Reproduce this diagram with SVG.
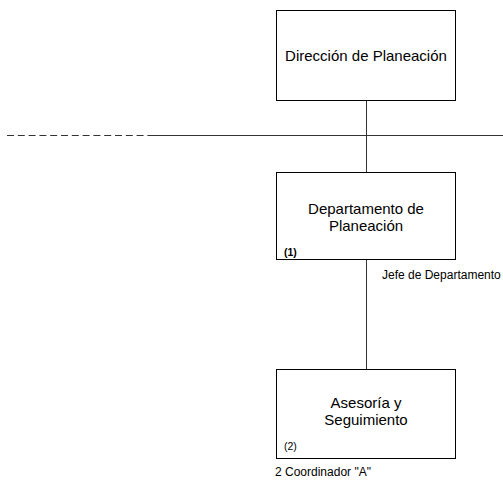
<svg xmlns="http://www.w3.org/2000/svg" width="503" height="481" viewBox="0 0 503 481">
  <style>
    .box { fill: #ffffff; stroke: #000000; stroke-width: 1; }
    .title { font-family: "Liberation Sans", Arial, sans-serif; font-size: 15px; fill: #000000; text-anchor: middle; }
    .num { font-family: "Liberation Sans", Arial, sans-serif; font-size: 10.5px; fill: #000000; }
    .note { font-family: "Liberation Sans", Arial, sans-serif; font-size: 12px; fill: #000000; }
    .link { stroke: #333333; stroke-width: 1; fill: none; }
  </style>
  <rect width="503" height="481" fill="#ffffff"/>

  <g id="connectors">
    <line class="link" x1="7" y1="135.5" x2="150" y2="135.5" stroke-dasharray="7 3.8"/>
    <line class="link" x1="150" y1="135.5" x2="503" y2="135.5"/>
    <line class="link" x1="366.5" y1="100" x2="366.5" y2="172"/>
    <line class="link" x1="366.5" y1="259" x2="366.5" y2="369"/>
  </g>

  <g id="direccion">
    <rect class="box" x="276.5" y="10.5" width="179" height="90"/>
    <text class="title" x="366" y="61">Dirección de Planeación</text>
  </g>

  <g id="departamento">
    <rect class="box" x="276.5" y="172.5" width="179" height="87"/>
    <text class="title" x="366" y="214">Departamento de</text>
    <text class="title" x="366" y="231">Planeación</text>
    <text class="num" x="284" y="256" font-weight="bold">(1)</text>
    <text class="note" x="382" y="279">Jefe de Departamento</text>
  </g>

  <g id="asesoria">
    <rect class="box" x="276.5" y="369.5" width="179" height="89"/>
    <text class="title" x="366" y="408">Asesoría y</text>
    <text class="title" x="366" y="425">Seguimiento</text>
    <text class="num" x="284" y="450">(2)</text>
    <text class="note" x="275" y="476">2  Coordinador "A"</text>
  </g>
</svg>
